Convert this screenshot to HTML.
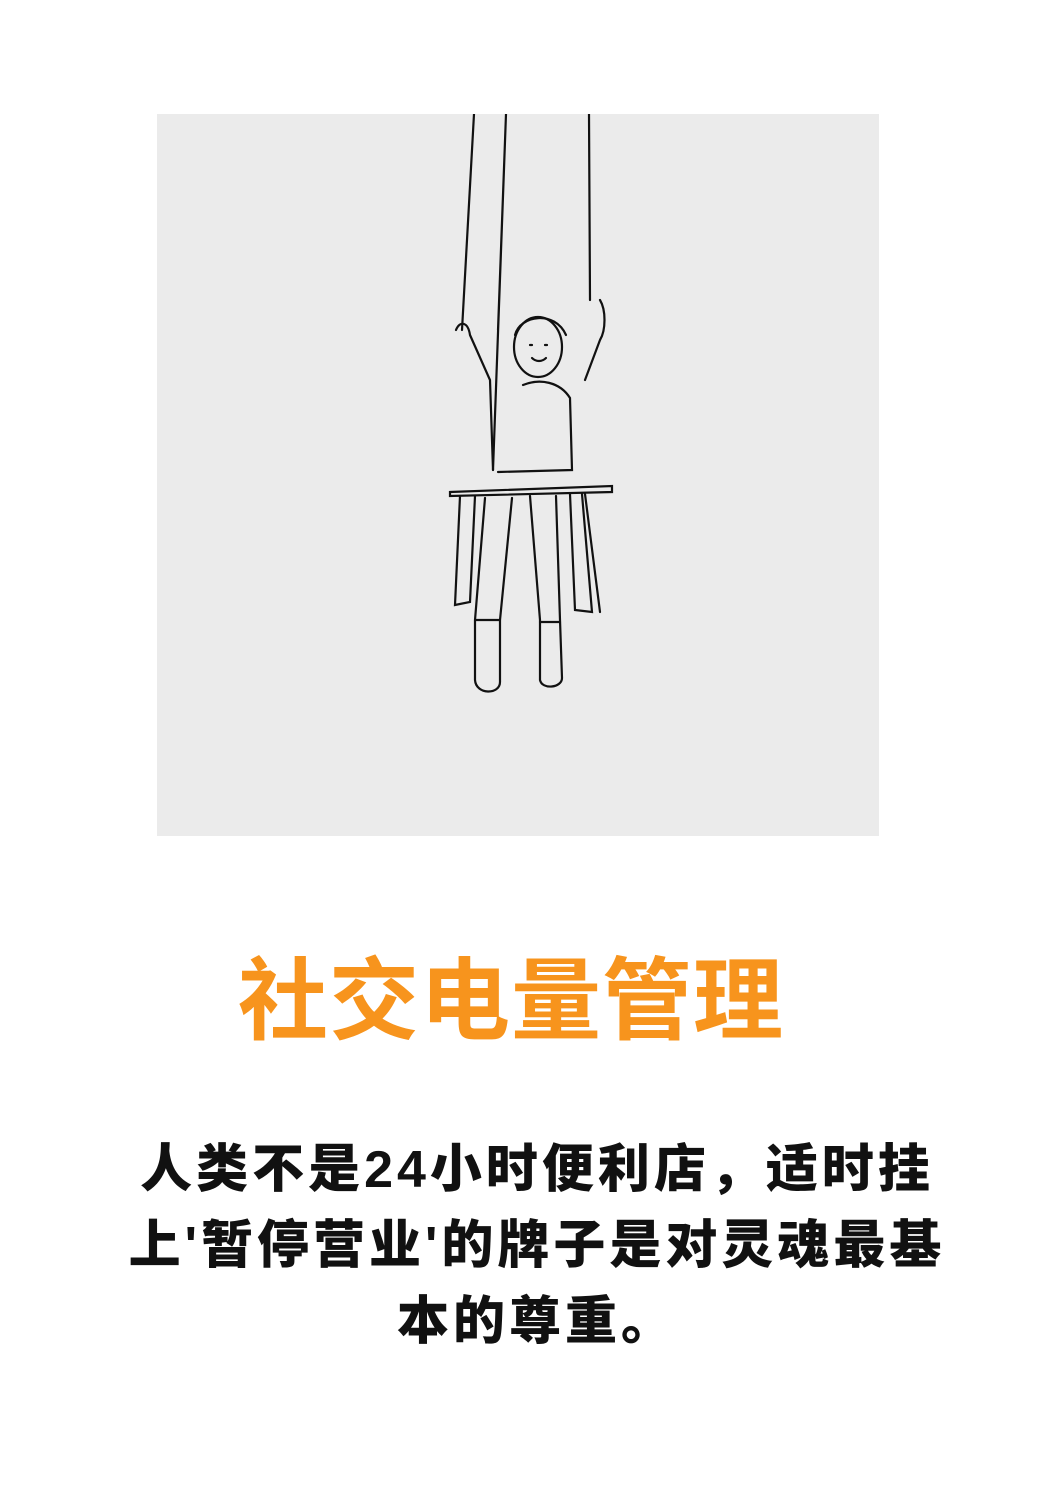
<!DOCTYPE html>
<html><head><meta charset="utf-8"><style>
html,body{margin:0;padding:0;background:#fff;width:1050px;height:1485px;overflow:hidden}
.img{position:absolute;left:157px;top:114px;width:722px;height:722px;background:#ebebeb}
.title{position:absolute;left:0;width:1050px;top:928px;text-align:center;color:#f7941d;font:bold 90px "Liberation Sans","Noto Sans CJK SC",sans-serif;letter-spacing:1px;transform:translateX(-14px)}
.body{position:absolute;left:62px;width:950px;top:1132px;text-align:center;color:#111;font:900 52px/76px "Liberation Sans","Noto Sans CJK SC",sans-serif;letter-spacing:4px;font-weight:900}
</style></head><body>
<div class="img">
<svg width="722" height="722" viewBox="157 114 722 722" fill="none" stroke="#111" stroke-width="2.2" stroke-linecap="round">
<path d="M474 114 L462 330 M506 114 L498 330 M589 114 L590 300 M506 114 L493 470"/>
<path d="M456 330 C460 320 468 322 470 335 L490 380 L493 470 M600 300 C606 310 606 330 600 340 L585 380"/>
<ellipse cx="538" cy="347" rx="24" ry="30"/>
<path d="M515 335 C520 315 555 310 566 335 M530 345 l2 0 M545 345 l2 0 M532 358 C536 362 542 362 546 358"/>
<path d="M523 385 C540 378 560 382 570 398 L572 470 L498 472"/>
<path d="M450 492 L612 486 L612 492 L450 496 Z"/>
<path d="M460 496 L455 605 L470 602 L475 496 M570 494 L575 610 L592 612 L582 494 M585 494 L600 612"/>
<path d="M485 498 L475 620 L475 680 C476 695 500 695 500 682 L500 620 L512 498 M530 496 L540 620 L540 680 C542 690 562 688 562 678 L560 620 L556 496"/>
<path d="M476 620 L500 620 M540 622 L560 622"/>
</svg>
</div>
<div class="title">社交电量管理</div>
<div class="body">人类不是24小时便利店，适时挂<br>上'暂停营业'的牌子是对灵魂最基<br>本的尊重。</div>
</body></html>
